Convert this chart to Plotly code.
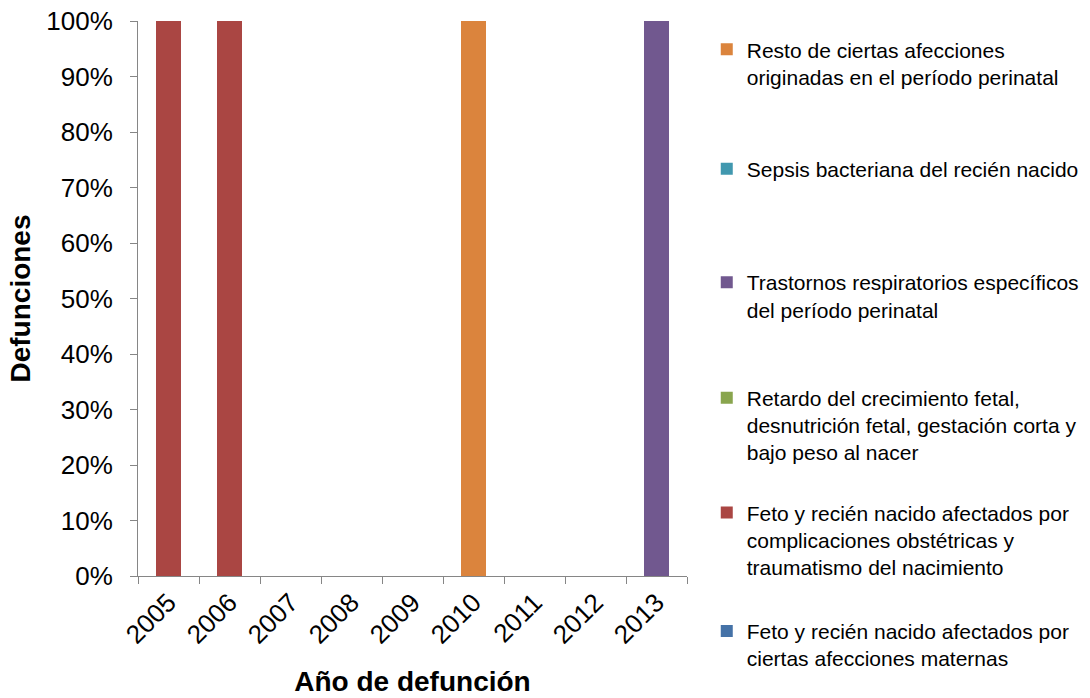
import plotly.graph_objects as go

years = ["2005", "2006", "2007", "2008", "2009", "2010", "2011", "2012", "2013"]

# Series (bottom of stack first); share of deaths per year (fraction of 100%)
s_maternas = [0, 0, 0, 0, 0, 0, 0, 0, 0]
s_complicaciones = [1, 1, 0, 0, 0, 0, 0, 0, 0]
s_retardo = [0, 0, 0, 0, 0, 0, 0, 0, 0]
s_trastornos = [0, 0, 0, 0, 0, 0, 0, 0, 1]
s_sepsis = [0, 0, 0, 0, 0, 0, 0, 0, 0]
s_resto = [0, 0, 0, 0, 0, 1, 0, 0, 0]

names = [
    "Feto y recién nacido afectados por<br>ciertas afecciones maternas",
    "Feto y recién nacido afectados por<br>complicaciones obstétricas y<br>traumatismo del nacimiento",
    "Retardo del crecimiento fetal,<br>desnutrición fetal, gestación corta y<br>bajo peso al nacer",
    "Trastornos respiratorios específicos<br>del período perinatal",
    "Sepsis bacteriana del recién nacido",
    "Resto de ciertas afecciones<br>originadas en el período perinatal",
]
series = [s_maternas, s_complicaciones, s_retardo, s_trastornos, s_sepsis, s_resto]
colors = ["#4572A7", "#AA4643", "#89A54E", "#71588F", "#4198AF", "#DB843D"]

FONT = "Liberation Sans, Arial, sans-serif"

# legend centre positions (paper y) for each series, in the same order
legend_y = [-0.124, 0.065, 0.272, 0.5045, 0.733, 0.924]

fig = go.Figure()
for i, (nm, vals, col) in enumerate(zip(names, series, colors)):
    lg = "legend" if i == 0 else f"legend{i+1}"
    fig.add_trace(go.Bar(
        x=years, y=vals, name=nm, marker=dict(color=col, line=dict(width=0)),
        legend=lg,
    ))

layout_legends = {}
for i, yy in enumerate(legend_y):
    key = "legend" if i == 0 else f"legend{i+1}"
    layout_legends[key] = dict(
        x=1.036, xanchor="left", y=yy, yanchor="middle",
        font=dict(family=FONT, size=21, color="#000000"),
        bgcolor="rgba(0,0,0,0)", borderwidth=0, valign="top",
        itemwidth=30,
    )

fig.update_layout(
    barmode="stack",
    bargap=0.59,
    width=1090, height=698,
    margin=dict(l=138, r=403, t=21, b=122, autoexpand=False),
    paper_bgcolor="white", plot_bgcolor="white",
    font=dict(family=FONT, color="#000000"),
    showlegend=True,
    **layout_legends,
)

fig.update_xaxes(
    type="category",
    showline=True, linecolor="#868686", linewidth=1,
    ticks="outside", tickson="boundaries", ticklen=7, tickcolor="#868686",
    tickangle=-45, tickfont=dict(family=FONT, size=26),
    showgrid=False, zeroline=False,
    title=dict(text="<b>Año de defunción</b>", font=dict(family=FONT, size=28), standoff=22),
)
fig.update_yaxes(
    range=[0, 1], tickformat=".0%", dtick=0.1, tick0=0,
    showline=True, linecolor="#868686", linewidth=1,
    ticks="outside", ticklen=7, tickcolor="#868686",
    tickfont=dict(family=FONT, size=26), ticklabelstandoff=12,
    showgrid=False, zeroline=False,
    title=dict(text="<b>Defunciones</b>", font=dict(family=FONT, size=28), standoff=7),
)

fig.write_html("out.html")
